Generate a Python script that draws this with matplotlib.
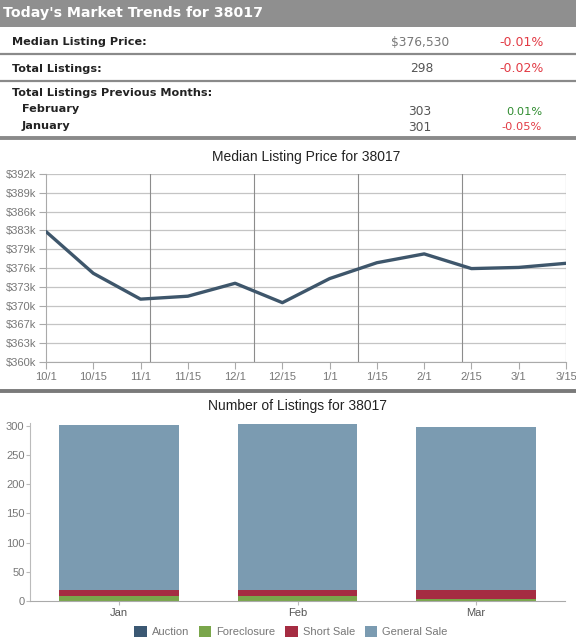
import matplotlib
matplotlib.use("Agg")
import matplotlib.pyplot as plt
from matplotlib.patches import Rectangle
from matplotlib.lines import Line2D
import numpy as np

# ---------------- data ----------------
zip_code = "38017"
median_price = "$376,530"
median_change = "-0.01%"
total_listings = "298"
total_change = "-0.02%"
prev_months = ["February", "January"]
prev_values = ["303", "301"]
prev_changes = ["0.01%", "-0.05%"]

dates = ["10/1", "10/15", "11/1", "11/15", "12/1", "12/15",
         "1/1", "1/15", "2/1", "2/15", "3/1", "3/15"]
prices_k = [382.2, 375.1, 370.7, 371.2, 373.4, 370.1,
            374.2, 376.9, 378.4, 375.9, 376.1, 376.8]
price_ticks = [360, 363.2, 366.4, 369.6, 372.8, 376, 379.2, 382.4, 385.6, 388.8, 392]
price_tick_labels = ["$360k", "$363k", "$367k", "$370k", "$373k", "$376k",
                     "$379k", "$383k", "$386k", "$389k", "$392k"]

months = ["Jan", "Feb", "Mar"]
auction = [0, 0, 0]
foreclosure = [8, 8, 4]
short_sale = [11, 11, 14]
general_sale = [282, 284, 280]
series_names = ["Auction", "Foreclosure", "Short Sale", "General Sale"]
count_ticks = [0, 50, 100, 150, 200, 250, 300]

# ---------------- styles ----------------
W, H = 576, 640
fig = plt.figure(figsize=(W / 100, H / 100), dpi=100)
fig.patch.set_facecolor("white")

def fy(py):
    return 1 - py / H

def fx(px):
    return px / W

TAB = "DejaVu Sans"
CH = "Liberation Sans"
RED = "#e23b45"
GREEN = "#2e8b2e"
colors = ["#3b5873", "#7aa64b", "#a52c42", "#7b9bb1"]

# header band
fig.patches.append(Rectangle((0, fy(27)), 1, 27 / H, transform=fig.transFigure,
                             facecolor="#8f8f8f", edgecolor="none"))
fig.text(fx(3), fy(13), f"Today's Market Trends for {zip_code}", family=TAB,
         weight="bold", color="white", fontsize=10.2, va="center", ha="left")

def hline(py, lw, color):
    fig.lines.append(Line2D([0, 1], [fy(py), fy(py)], transform=fig.transFigure,
                            color=color, lw=lw))

lab_kw = dict(family=TAB, weight="bold", color="#222222", fontsize=8.1, va="center")
val_kw = dict(family=TAB, color="#555555", fontsize=8.8, va="center", ha="center")
pct_kw = dict(family=TAB, va="center", ha="center")

fig.text(fx(12), fy(42), "Median Listing Price:", **lab_kw)
fig.text(fx(420), fy(42), median_price, **{**val_kw, "color": "#777777"})
fig.text(fx(521.5), fy(42), median_change, color=RED, fontsize=9.0, **pct_kw)
hline(54, 1.6, "#8a8a8a")

fig.text(fx(12), fy(68.7), "Total Listings:", **lab_kw)
fig.text(fx(421.5), fy(68.7), total_listings, **val_kw)
fig.text(fx(521.5), fy(68.7), total_change, color=RED, fontsize=9.0, **pct_kw)
hline(81, 1.6, "#8a8a8a")

fig.text(fx(12), fy(93), "Total Listings Previous Months:", **lab_kw)
prev_label_y = [109, 126.3]
prev_value_y = [111.7, 127.3]
prev_pct_x = [524.7, 521.7]
for i, (m, v, c) in enumerate(zip(prev_months, prev_values, prev_changes)):
    fig.text(fx(22), fy(prev_label_y[i]), m, **lab_kw)
    fig.text(fx(419.5), fy(prev_value_y[i]), v, **val_kw)
    col = RED if c.startswith("-") else GREEN
    fig.text(fx(prev_pct_x[i]), fy(prev_value_y[i]), c, color=col, fontsize=8.2, **pct_kw)
hline(137.5, 2.8, "#8a8a8a")
hline(390.5, 2.8, "#7a7a7a")

# ---------------- line chart ----------------
ax1 = fig.add_axes([fx(46), fy(362), fx(566) - fx(46), fy(174) - fy(362)])
x = np.arange(len(dates))
ax1.plot(x, prices_k, color="#3e566b", lw=2.4, solid_capstyle="round", zorder=3)
ax1.set_xlim(0, len(dates) - 1)
ax1.set_ylim(price_ticks[0], price_ticks[-1])
ax1.set_yticks(price_ticks)
ax1.set_yticklabels(price_tick_labels)
ax1.set_xticks(x)
ax1.set_xticklabels(dates)
for t in price_ticks:
    ax1.axhline(t, color="#c4c4c4", lw=0.9, zorder=1)
for v in np.linspace(0, len(dates) - 1, 6)[1:]:
    ax1.axvline(v, color="#8c8c8c", lw=0.8, zorder=1)
for s in ["top", "right"]:
    ax1.spines[s].set_visible(False)
ax1.spines["left"].set_color("#aaaaaa")
ax1.spines["bottom"].set_color("#aaaaaa")
ax1.tick_params(axis="both", colors="#aaaaaa", labelcolor="#777777", labelsize=8,
                length=5, width=0.8, pad=2)
for lab in ax1.get_xticklabels() + ax1.get_yticklabels():
    lab.set_family(CH)
ax1.set_title(f"Median Listing Price for {zip_code}", family=CH, fontsize=10,
              color="#222222", pad=9)

# ---------------- bar chart ----------------
ax2 = fig.add_axes([fx(30), fy(601), fx(565) - fx(30), fy(423) - fy(601)])
xb = np.arange(len(months))
bottom = np.zeros(len(months))
handles = []
for name, vals, col in zip(series_names, [auction, foreclosure, short_sale, general_sale], colors):
    b = ax2.bar(xb, vals, bottom=bottom, width=0.67, color=col, edgecolor="none",
                label=name, zorder=2)
    handles.append(b)
    bottom = bottom + np.array(vals)
ax2.set_xlim(-0.5, len(months) - 0.5)
ax2.set_ylim(0, 305)
ax2.set_yticks(count_ticks)
ax2.set_xticks(xb)
ax2.set_xticklabels(months)
for s in ["top", "right"]:
    ax2.spines[s].set_visible(False)
ax2.spines["left"].set_color("#bbbbbb")
ax2.spines["bottom"].set_color("#aaaaaa")
ax2.tick_params(axis="y", colors="#bbbbbb", labelcolor="#777777", labelsize=8,
                length=3, width=0.8, pad=1)
ax2.tick_params(axis="x", colors="#bbbbbb", labelcolor="#555555", labelsize=8,
                length=3, width=0.8, pad=2)
for lab in ax2.get_xticklabels() + ax2.get_yticklabels():
    lab.set_family(CH)
ax2.set_title(f"Number of Listings for {zip_code}", family=CH, fontsize=10,
              color="#222222", pad=9)
leg = fig.legend(handles=handles, labels=series_names, loc="center",
                 bbox_to_anchor=(fx(291), fy(631.5)), ncol=4, frameon=False,
                 prop={"family": CH, "size": 8}, handlelength=1.1, handleheight=1.1,
                 handletextpad=0.45, columnspacing=0.9)
for t in leg.get_texts():
    t.set_color("#777777")

fig.savefig("out.png", dpi=100)
